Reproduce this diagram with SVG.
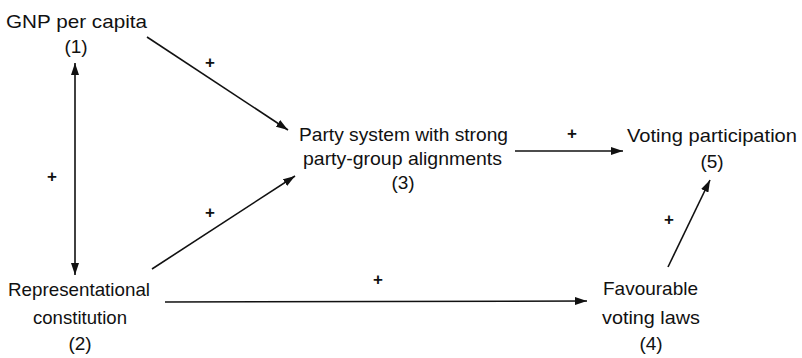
<svg xmlns="http://www.w3.org/2000/svg" width="802" height="358" viewBox="0 0 802 358">
<style>
text{font-family:"Liberation Sans",Arial,sans-serif;font-size:19px;fill:#111;text-anchor:middle}
.p{font-size:17px;font-weight:bold}
.c line{stroke:#111;stroke-width:1.6}
</style>
<defs>
<marker id="ah" viewBox="0 0 12 8" refX="12" refY="4" markerWidth="12" markerHeight="8" markerUnits="userSpaceOnUse" orient="auto-start-reverse">
<path d="M0,0 L12,4 L0,8 Z" fill="#111"/>
</marker>
</defs>
<rect width="802" height="358" fill="#fff"/>
<g id="n1">
<text x="76.5" y="28" textLength="141" lengthAdjust="spacingAndGlyphs">GNP per capita</text>
<text x="76" y="53">(1)</text>
</g>
<g id="n2">
<text x="79" y="296" textLength="142" lengthAdjust="spacingAndGlyphs">Representational</text>
<text x="80" y="324" textLength="94" lengthAdjust="spacingAndGlyphs">constitution</text>
<text x="80" y="350">(2)</text>
</g>
<g id="n3">
<text x="403.5" y="141" textLength="209" lengthAdjust="spacingAndGlyphs">Party system with strong</text>
<text x="402.5" y="165" textLength="199" lengthAdjust="spacingAndGlyphs">party-group alignments</text>
<text x="403" y="189">(3)</text>
</g>
<g id="n4">
<text x="650.5" y="295" textLength="95" lengthAdjust="spacingAndGlyphs">Favourable</text>
<text x="651" y="324" textLength="98" lengthAdjust="spacingAndGlyphs">voting laws</text>
<text x="651" y="350">(4)</text>
</g>
<g id="n5">
<text x="712" y="142" textLength="170" lengthAdjust="spacingAndGlyphs">Voting participation</text>
<text x="712" y="168">(5)</text>
</g>
<g id="connectors" class="c">
<line x1="75" y1="63" x2="75" y2="275" marker-start="url(#ah)" marker-end="url(#ah)"/>
<line x1="147" y1="37" x2="288" y2="130" marker-end="url(#ah)"/>
<line x1="152" y1="269" x2="295" y2="176" marker-end="url(#ah)"/>
<line x1="515" y1="151" x2="623" y2="151" marker-end="url(#ah)"/>
<line x1="165" y1="302" x2="587" y2="301" marker-end="url(#ah)"/>
<line x1="668" y1="267" x2="710" y2="180" marker-end="url(#ah)"/>
<text class="p" x="52" y="182">+</text>
<text class="p" x="210" y="68">+</text>
<text class="p" x="210" y="218">+</text>
<text class="p" x="378" y="285">+</text>
<text class="p" x="572" y="139">+</text>
<text class="p" x="669" y="225">+</text>
</g>
</svg>
